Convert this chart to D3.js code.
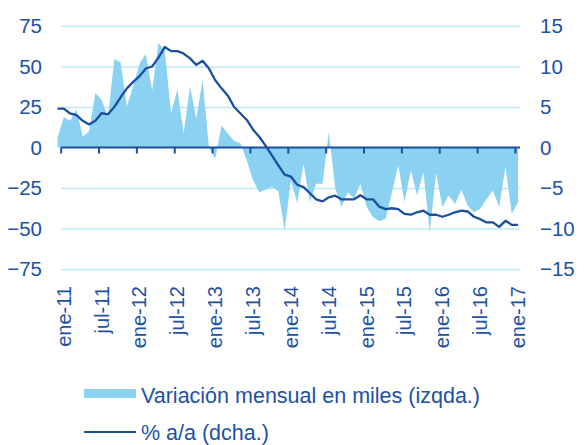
<!DOCTYPE html>
<html lang="es">
<head>
    <meta charset="UTF-8">
    <title>Variación mensual</title>
    <script src="https://d3js.org/d3.v7.min.js"></script>
    <style>
        body { margin: 0; background: #fff; }
        text { font-family: 'Liberation Sans', Arial, sans-serif; fill: #1d51a3; }
    </style>
</head>
<body>
    <div id="chart"></div>
    <script>
        // tick labels on the x axis (every 6 months, ene-11 .. ene-17)
        const tickLabels = ["ene-11", "jul-11", "ene-12", "jul-12", "ene-13", "jul-13", "ene-14",
                            "jul-14", "ene-15", "jul-15", "ene-16", "jul-16", "ene-17"];

        // monthly change in thousands (left axis), ene-11 .. feb-17
        const monthly = [6, 18.7, 16.5, 23.4, 6.8, 10, 33.5, 29.4, 18.3, 54.7,
                         52.7, 25.3, 38, 51.7, 57.8, 35.2, 64.4, 60, 21.2, 35.6,
                         8.8, 37.7, 17.7, 41.8, 0, -7, 13.6, 8.6, 4, 2.7,
                         -8, -20.4, -27.6, -26, -24.5, -27, -51.2, -20.4, -34.4, -10,
                         -33.7, -22.4, -22.4, 9.5, -25, -36.8, -27.6, -31.7, -22.4, -36.8,
                         -43, -45.5, -44, -28, -11, -33.7, -14.2, -29.6, -15.2, -52.3,
                         -15.8, -36.8, -29.6, -34.8, -26.1, -35.8, -39.9, -37.8, -32, -26.5,
                         -36.8, -12.1, -41, -33.7];

        // % y/y (right axis)
        const yoy = [4.8, 4.8, 4.2, 4.0, 3.3, 2.85, 3.3, 4.25, 4.1, 5.0,
                     6.2, 7.3, 8.1, 8.8, 9.75, 10.0, 11.1, 12.4, 11.9, 11.9,
                     11.6, 11.0, 10.2, 10.7, 9.75, 8.3, 7.3, 6.4, 5.0, 4.2,
                     3.4, 2.2, 1.3, 0.2, -1.0, -2.2, -3.35, -3.6, -4.6, -4.9,
                     -5.65, -6.4, -6.65, -6.15, -5.95, -6.4, -6.4, -6.4, -5.9, -6.4,
                     -6.4, -7.3, -7.6, -7.5, -7.6, -8.2, -8.3, -8.0, -7.8, -8.3,
                     -8.3, -8.55, -8.3, -8.0, -7.8, -7.9, -8.55, -8.85, -9.25, -9.25,
                     -9.8, -9.05, -9.55, -9.55];

        const leftTicks = [-75, -50, -25, 0, 25, 50, 75];
        const rightTicks = [-15, -10, -5, 0, 5, 10, 15];

        const seriesNames = ["Variación mensual en miles (izqda.)", "% a/a (dcha.)"];

        const width = 584, height = 445;
        const areaColor = "#8bd1f2", lineColor = "#1a4e9e", gridColor = "#c2e7f8";

        const svg = d3.select("#chart")
            .append("svg")
            .attr("width", width)
            .attr("height", height);

        const x = d3.scaleLinear().domain([0, monthly.length - 1]).range([57.5, 518.1]);
        const yL = d3.scaleLinear().domain([-75, 75]).range([269, 26]);
        const yR = d3.scaleLinear().domain([-15, 15]).range([269, 26]);

        const gridLeft = 61, gridRight = 520;

        // gridlines
        svg.append("g")
            .attr("transform", `translate(${gridLeft},0)`)
            .call(d3.axisLeft(yL).tickValues(leftTicks.filter(d => d !== 0))
                .tickSize(-(gridRight - gridLeft)).tickFormat(""))
            .call(g => g.select(".domain").remove())
            .call(g => g.selectAll("line").attr("stroke", gridColor).attr("stroke-width", 1.6));

        // area
        const area = d3.area()
            .x((d, i) => x(i))
            .y0(yL(0))
            .y1(d => yL(d));
        svg.append("path")
            .datum(monthly)
            .attr("d", area)
            .attr("fill", areaColor);

        // x axis line with ticks
        const tickIdx = tickLabels.map((d, i) => i * 6 + 0.5);
        svg.append("g")
            .attr("transform", `translate(0,${yL(0)})`)
            .call(d3.axisBottom(x).tickValues(tickIdx).tickSize(6).tickSizeOuter(0).tickFormat(""))
            .call(g => g.select(".domain").attr("d", `M${gridLeft},0H${gridRight}`)
                .attr("stroke", lineColor).attr("stroke-width", 2))
            .call(g => g.selectAll(".tick line").attr("stroke", lineColor).attr("stroke-width", 2));

        // line
        const line = d3.line()
            .x((d, i) => x(i))
            .y(d => yR(d));
        svg.append("path")
            .datum(yoy)
            .attr("d", line)
            .attr("fill", "none")
            .attr("stroke", lineColor)
            .attr("stroke-width", 2.3)
            .attr("stroke-linejoin", "round");

        // left axis labels
        svg.append("g")
            .attr("transform", `translate(${gridLeft},0)`)
            .call(d3.axisLeft(yL).tickValues(leftTicks).tickSize(0).tickPadding(19))
            .call(g => g.select(".domain").remove())
            .call(g => g.selectAll("text").style("font-size", "20.5px"));

        // right axis labels
        svg.append("g")
            .attr("transform", `translate(${gridRight},0)`)
            .call(d3.axisRight(yR).tickValues(rightTicks).tickSize(0).tickPadding(20))
            .call(g => g.select(".domain").remove())
            .call(g => g.selectAll("text").style("font-size", "20.5px"));

        // x tick labels, rotated
        svg.append("g")
            .attr("transform", "translate(2.5,286)")
            .call(d3.axisBottom(x).tickValues(tickIdx).tickSize(0)
                .tickFormat((d, i) => tickLabels[i]))
            .call(g => g.select(".domain").remove())
            .call(g => g.selectAll("text")
                .attr("x", 0).attr("y", 0).attr("dy", "0.35em")
                .attr("transform", "rotate(-90)")
                .attr("text-anchor", "end")
                .style("font-size", "20px"));

        // legend
        const legend = svg.append("g");
        legend.append("rect")
            .attr("x", 84).attr("y", 389)
            .attr("width", 52).attr("height", 9)
            .attr("fill", areaColor);
        legend.append("text")
            .attr("x", 141).attr("y", 403)
            .text(seriesNames[0])
            .style("font-size", "21.5px");
        legend.append("line")
            .attr("x1", 84).attr("x2", 136)
            .attr("y1", 432).attr("y2", 432)
            .attr("stroke", lineColor).attr("stroke-width", 2);
        legend.append("text")
            .attr("x", 141).attr("y", 440)
            .text(seriesNames[1])
            .style("font-size", "21.5px");
    </script>
</body>
</html>
